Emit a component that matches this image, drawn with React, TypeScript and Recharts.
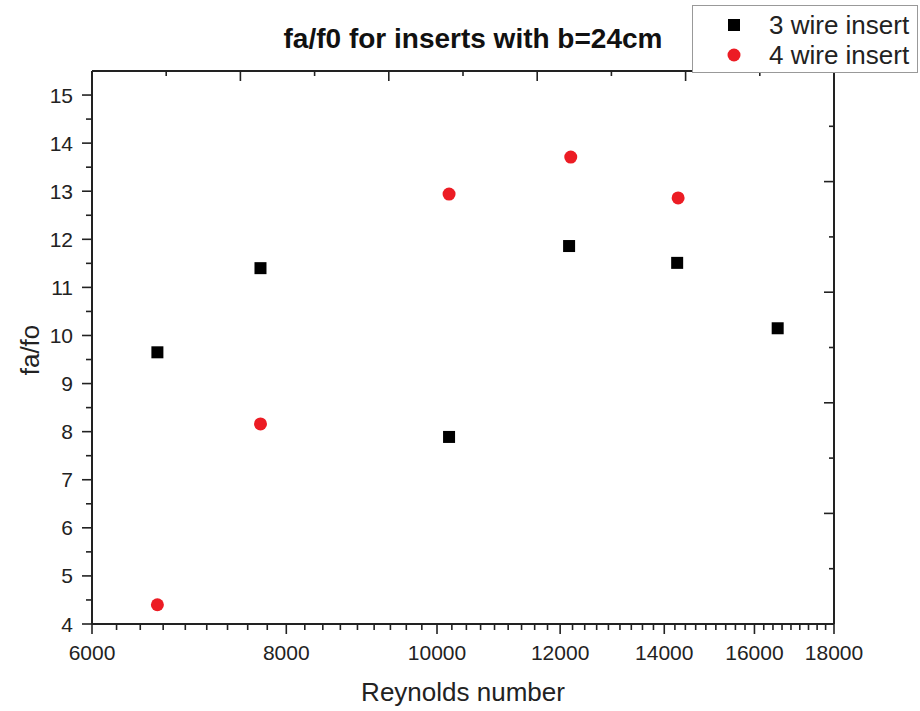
import { Legend, ReferenceLine, Scatter, ScatterChart, XAxis, YAxis } from "recharts";

// Reynolds number (log axis) vs friction factor ratio
const reynoldsTicks = [6000, 8000, 10000, 12000, 14000, 16000, 18000];
const ratioTicks = [4, 5, 6, 7, 8, 9, 10, 11, 12, 13, 14, 15];

const threeWireRe = [6610, 7700, 10180, 12160, 14270, 16560];
const threeWireRatio = [9.65, 11.4, 7.89, 11.86, 11.51, 10.15];

const fourWireRe = [6610, 7700, 10180, 12190, 14290];
const fourWireRatio = [4.4, 8.16, 12.94, 13.71, 12.86];

const threeWire = threeWireRe.map((re, i) => ({ re, ratio: threeWireRatio[i] }));
const fourWire = fourWireRe.map((re, i) => ({ re, ratio: fourWireRatio[i] }));

// 8 minor ticks between each pair of majors on the bottom axis
const bottomTicks: number[] = [];
reynoldsTicks.forEach((t, i) => {
	bottomTicks.push(t);
	const next = reynoldsTicks[i + 1];
	if (next === undefined) return;
	for (let k = 1; k < 9; k++) bottomTicks.push(t + ((next - t) * k) / 9);
});

const leftTicks: number[] = [];
ratioTicks.forEach((t) => {
	leftTicks.push(t);
	if (t < 15) leftTicks.push(t + 0.5);
});

// the mirrored frame sides carry 10 plain divisions
const frameTicks = [0, 1, 2, 3, 4, 5, 6, 7, 8, 9, 10];

const WIDTH = 920;
const HEIGHT = 711;
const MARGIN = { top: 71, right: 85, bottom: 0, left: 0 };
const Y_AXIS_W = 92;
const RIGHT_AXIS_W = 1;
const PLOT_W = WIDTH - MARGIN.left - MARGIN.right - Y_AXIS_W - RIGHT_AXIS_W;

const INK = "#222";
const AXIS = "#222";
const RED = "#ec1c24";
const FONT = "'Liberation Sans', Arial, sans-serif";

function BottomTick({ x, y, payload }: any) {
	const major = reynoldsTicks.includes(payload.value);
	return (
		<g>
			<line x1={x} x2={x} y1={y} y2={y + (major ? 10 : 6)} stroke={AXIS} strokeWidth={1.6} />
			{major && (
				<text x={x} y={y + 28} textAnchor='middle' dominantBaseline='central' fontSize={21} fill={INK} fontFamily={FONT}>
					{payload.value}
				</text>
			)}
		</g>
	);
}

function LeftTick({ x, y, payload }: any) {
	const major = Number.isInteger(payload.value);
	return (
		<g>
			<line x1={x} x2={x - (major ? 10 : 6)} y1={y} y2={y} stroke={AXIS} strokeWidth={1.6} />
			{major && (
				<text x={x - 19} y={y} textAnchor='end' dominantBaseline='central' fontSize={21} fill={INK} fontFamily={FONT}>
					{payload.value}
				</text>
			)}
		</g>
	);
}

// right side ticks; the top one also carries the top edge of the frame
function RightTick({ x, y, payload }: any) {
	if (payload.value === 0) return <g />;
	if (payload.value === 10) {
		const left = x - PLOT_W;
		return (
			<g>
				<line x1={left} x2={x} y1={y} y2={y} stroke={AXIS} strokeWidth={2} />
				{frameTicks.slice(1, -1).map((k) => (
					<line
						key={k}
						x1={left + (PLOT_W * k) / 10}
						x2={left + (PLOT_W * k) / 10}
						y1={y}
						y2={y + (k % 2 === 0 ? 10 : 5)}
						stroke={AXIS}
						strokeWidth={1.6}
					/>
				))}
			</g>
		);
	}
	const major = payload.value % 2 === 0;
	return <line x1={x} x2={x - (major ? 10 : 5)} y1={y} y2={y} stroke={AXIS} strokeWidth={1.6} />;
}

function SquareMark({ cx, cy }: any) {
	return <rect x={cx - 6} y={cy - 6} width={12} height={12} fill='#000' />;
}

function CircleMark({ cx, cy }: any) {
	return <circle cx={cx} cy={cy} r={6.5} fill={RED} />;
}

function LegendBox() {
	const rows = [
		{ label: "3 wire insert", square: true },
		{ label: "4 wire insert", square: false },
	];
	return (
		<div
			style={{
				width: 226,
				height: 68,
				border: "1px solid #999",
				background: "#fff",
				boxSizing: "border-box",
				fontFamily: FONT,
				fontSize: 26,
				color: INK,
			}}
		>
			{rows.map((r) => (
				<div key={r.label} style={{ display: "flex", alignItems: "center", height: 30, marginTop: r.square ? 4 : 0 }}>
					<svg width={76} height={30}>
						{r.square ? (
							<rect x={35} y={9} width={12} height={12} fill='#000' />
						) : (
							<circle cx={41} cy={15} r={6.5} fill={RED} />
						)}
					</svg>
					<span>{r.label}</span>
				</div>
			))}
		</div>
	);
}

export default function App() {
	return (
		<div style={{ position: "relative", width: WIDTH, height: HEIGHT, background: "#fff" }}>
			<style>{"body{margin:0}"}</style>
			<ScatterChart width={WIDTH} height={HEIGHT} margin={MARGIN}>
				<XAxis
					dataKey='re'
					type='number'
					scale='log'
					domain={[6000, 18000]}
					allowDataOverflow
					ticks={bottomTicks}
					interval={0}
					height={87}
					tickSize={0}
					tickMargin={0}
					tick={BottomTick}
					axisLine={{ stroke: AXIS, strokeWidth: 2 }}
					label={{
						content: () => (
							<text x={463} y={692} textAnchor='middle' dominantBaseline='central' fontSize={26} fill={INK} fontFamily={FONT}>
								Reynolds number
							</text>
						),
					}}
				/>
				<YAxis
					dataKey='ratio'
					type='number'
					domain={[4, 15.5]}
					allowDataOverflow
					ticks={leftTicks}
					interval={0}
					width={Y_AXIS_W}
					tickSize={0}
					tickMargin={0}
					tick={LeftTick}
					axisLine={{ stroke: AXIS, strokeWidth: 2 }}
					label={{
						content: () => (
							<text
								x={30}
								y={350}
								textAnchor='middle'
								dominantBaseline='central'
								fontSize={26}
								fill={INK}
								fontFamily={FONT}
								transform='rotate(-90 30 350)'
							>
								fa/fo
							</text>
						),
					}}
				/>
				<YAxis
					yAxisId='right'
					orientation='right'
					type='number'
					dataKey='ratio'
					domain={[0, 10]}
					allowDataOverflow
					ticks={frameTicks}
					interval={0}
					width={RIGHT_AXIS_W}
					tickSize={0}
					tickMargin={0}
					tick={RightTick}
					axisLine={{ stroke: AXIS, strokeWidth: 2 }}
				/>
				<ReferenceLine y={15.5} stroke={AXIS} strokeWidth={2} ifOverflow='visible' />
				<Legend
					layout='vertical'
					verticalAlign='middle'
					align='center'
					content={() => <LegendBox />}
					wrapperStyle={{ position: "absolute", left: 692, top: 5, width: 226, height: 68 }}
				/>
				<Scatter name='3 wire insert' data={threeWire} shape={SquareMark} isAnimationActive={false} />
				<Scatter name='4 wire insert' data={fourWire} shape={CircleMark} isAnimationActive={false} />
				{/* invisible series bound to the right frame axis so it gets drawn */}
				<Scatter yAxisId='right' data={threeWire} shape={() => <g />} legendType='none' isAnimationActive={false} />
			</ScatterChart>
			<div
				style={{
					position: "absolute",
					left: 223,
					top: 23,
					width: 500,
					lineHeight: "32px",
					textAlign: "center",
					fontFamily: FONT,
					fontWeight: "bold",
					fontSize: 28,
					color: "#111",
					pointerEvents: "none",
				}}
			>
				fa/f0 for inserts with b=24cm
			</div>
		</div>
	);
}
